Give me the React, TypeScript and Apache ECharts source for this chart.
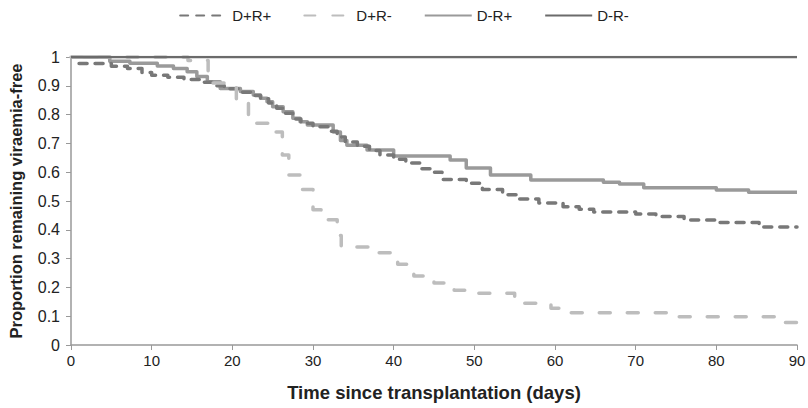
import React, { useEffect, useRef } from "react";
import * as echarts from "echarts";

const seriesNames = ["D+R+", "D+R-", "D-R+", "D-R-"];

const dpRpDays = [1, 5, 7, 8.8, 10, 12, 14, 16, 17.5, 19, 21, 22.5, 23.5, 24.5, 25.5, 26.5, 27.5, 28.5, 30, 32, 33, 34, 35.5, 37, 38.3, 40, 41.5, 43.3, 45, 46, 49, 51, 53.5, 55.5, 58, 61, 63, 64.8, 70, 72.5, 76, 80, 85.3, 90];
const dpRpVals = [0.977, 0.968, 0.96, 0.946, 0.937, 0.93, 0.922, 0.912, 0.9, 0.89, 0.878, 0.866, 0.855, 0.84, 0.822, 0.805, 0.785, 0.77, 0.758, 0.742, 0.722, 0.705, 0.69, 0.675, 0.66, 0.645, 0.632, 0.612, 0.6, 0.575, 0.562, 0.54, 0.522, 0.507, 0.493, 0.48, 0.471, 0.462, 0.455, 0.446, 0.434, 0.425, 0.41, 0.41];

const dpRmDays = [0, 14.5, 17, 20.5, 22, 24.5, 26.2, 27, 28.5, 30, 31, 33, 33.5, 37, 40.5, 42.5, 45, 47.5, 49, 55, 56, 59.5, 62, 74, 88.5, 90];
const dpRmVals = [1, 0.988, 0.91, 0.85, 0.77, 0.74, 0.66, 0.59, 0.54, 0.47, 0.435, 0.38, 0.34, 0.32, 0.28, 0.24, 0.215, 0.19, 0.18, 0.16, 0.145, 0.128, 0.112, 0.098, 0.078, 0.078];

const dmRpDays = [0, 4.8, 7.3, 10.7, 12.7, 14.4, 15.6, 16.9, 18.5, 21, 22.6, 23.5, 24.3, 25, 26.3, 27.5, 28.4, 29.3, 32.5, 33.4, 34.2, 36.7, 40, 47, 49, 52, 57, 66, 68, 71, 80, 84, 90];
const dmRpVals = [1, 0.985, 0.978, 0.969, 0.96, 0.949, 0.932, 0.914, 0.891, 0.88, 0.868, 0.857, 0.845, 0.827, 0.81, 0.787, 0.775, 0.764, 0.74, 0.71, 0.694, 0.677, 0.656, 0.642, 0.615, 0.59, 0.573, 0.565, 0.559, 0.546, 0.538, 0.53, 0.53];

const dmRmDays = [0, 90];
const dmRmVals = [1, 1];

const yTickLabels = ["0", "0.1", "0.2", "0.3", "0.4", "0.5", "0.6", "0.7", "0.8", "0.9", "1"];

const zip = (xs: number[], ys: number[]) => xs.map((x, i) => [x, ys[i]]);

const FONT = "Liberation Sans, Arial, sans-serif";

export default function App() {
  const ref = useRef<HTMLDivElement>(null);
  useEffect(() => {
    if (!ref.current) return;
    const chart = echarts.init(ref.current, null, { renderer: "svg" });
    const mk = (name: string, data: number[][], color: string, width: number, type: any, cap: any) => ({
      name,
      type: "line",
      step: "end",
      showSymbol: false,
      symbol: "none",
      legendIcon: "none",
      data,
      lineStyle: { color, width, type, cap, join: "round" },
      itemStyle: { color },
    });
    chart.setOption({
      animation: false,
      backgroundColor: "#ffffff",
      textStyle: { fontFamily: FONT },
      legend: {
        top: 3,
        left: "center",
        itemWidth: 47,
        itemHeight: 14,
        itemGap: 32,
        itemStyle: { opacity: 0, borderWidth: 0 },
        textStyle: { fontSize: 15, color: "#222", fontFamily: FONT },
        data: seriesNames,
      },
      grid: { left: 71, right: 11, top: 57, bottom: 63, containLabel: false, outerBoundsMode: "none" },
      xAxis: {
        type: "value",
        min: 0,
        max: 90,
        interval: 10,
        name: "Time since transplantation (days)",
        nameLocation: "middle",
        nameGap: 38,
        nameTextStyle: { fontSize: 18.5, fontWeight: "bold", color: "#222", fontFamily: FONT },
        axisLine: { lineStyle: { color: "#999", width: 1.5 } },
        axisTick: { show: true, length: 5, lineStyle: { color: "#999" } },
        axisLabel: { fontSize: 15, color: "#222", margin: 8, fontFamily: FONT },
        splitLine: { show: false },
      },
      yAxis: {
        type: "value",
        min: 0,
        max: 1,
        interval: 0.1,
        name: "Proportion remaining viraemia-free",
        nameLocation: "middle",
        nameGap: 47,
        nameTextStyle: { fontSize: 16.5, fontWeight: "bold", color: "#222", fontFamily: FONT },
        axisLine: { show: true, lineStyle: { color: "#999", width: 1.5 } },
        axisTick: { show: true, length: 5, lineStyle: { color: "#999" } },
        axisLabel: {
          fontSize: 16,
          color: "#222",
          margin: 11,
          fontFamily: FONT,
          formatter: (v: number) => yTickLabels[Math.round(v * 10)] ?? String(v),
        },
        splitLine: { show: false },
      },
      series: [
        mk("D-R+", zip(dmRpDays, dmRpVals), "#9a9a9a", 3.5, "solid", "butt"),
        mk("D+R+", zip(dpRpDays, dpRpVals), "#787878", 3.5, [8, 8], "round"),
        mk("D+R-", zip(dpRmDays, dpRmVals), "#bdbdbd", 3.5, [11, 17], "round"),
        mk("D-R-", zip(dmRmDays, dmRmVals), "#6b6b6b", 2.5, "solid", "butt"),
      ],
    });
    return () => chart.dispose();
  }, []);
  return <div ref={ref} style={{ position: "fixed", left: 0, top: 0, width: 808, height: 408 }} />;
}
